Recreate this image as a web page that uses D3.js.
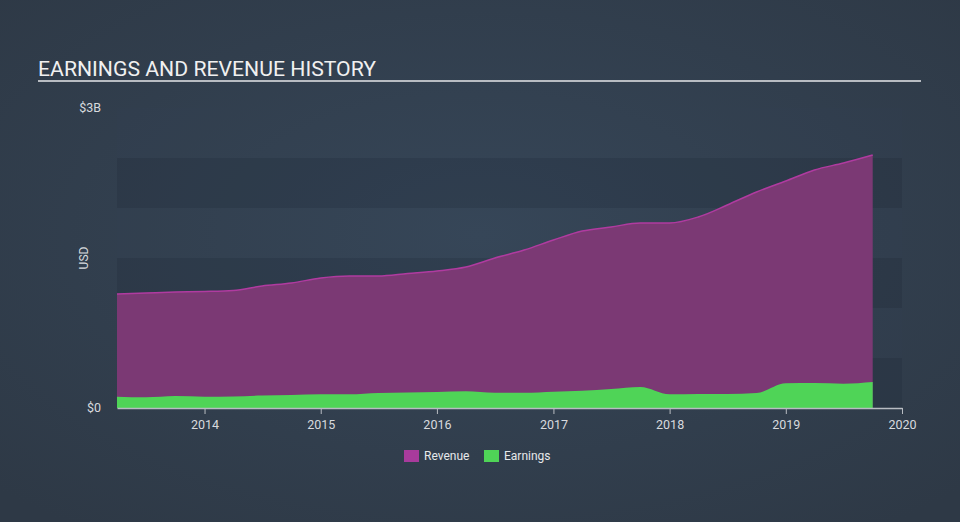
<!DOCTYPE html>
<html>
<head>
<meta charset="utf-8">
<script src="https://cdn.jsdelivr.net/npm/d3@7/dist/d3.min.js"></script>
<style>
  html, body { margin: 0; padding: 0; background: #323f4f; }
  svg { display: block; }
  text { font-family: Roboto, "Open Sans", sans-serif; }
</style>
</head>
<body>
<svg id="chart" width="960" height="522"></svg>
<script>
// ---- data (values in billions USD) ----
const dates = ["2013-04","2013-07","2013-10","2014-01","2014-04","2014-07","2014-10",
  "2015-01","2015-04","2015-07","2015-10","2016-01","2016-04","2016-07","2016-10",
  "2017-01","2017-04","2017-07","2017-10","2018-01","2018-04","2018-07","2018-10",
  "2019-01","2019-04","2019-07","2019-10"];
const revenue = [1.14,1.15,1.16,1.165,1.175,1.22,1.25,
  1.30,1.32,1.32,1.345,1.37,1.41,1.50,1.58,
  1.68,1.77,1.81,1.85,1.85,1.91,2.03,2.16,
  2.27,2.38,2.45,2.53];
const earnings = [0.113,0.107,0.12,0.113,0.115,0.125,0.13,
  0.137,0.137,0.15,0.155,0.16,0.167,0.153,0.153,
  0.163,0.173,0.19,0.21,0.137,0.14,0.14,0.15,
  0.247,0.25,0.243,0.26];
const xTickYears = [2014,2015,2016,2017,2018,2019,2020];
const yTickValues = [0, 3];
const yTickLabels = ["$0", "$3B"];
const bandEdges = [0, 0.5, 1, 1.5, 2, 2.5];
const seriesNames = ["Revenue", "Earnings"];
const seriesColors = ["#a83b9c", "#4fd457"];

const parse = d3.timeParse("%Y-%m");
const rows = dates.map((d, i) => ({ date: parse(d), rev: revenue[i], earn: earnings[i] }));

const svg = d3.select("#chart");
const W = 960, H = 522;

// background
const defs = svg.append("defs");
const rg = defs.append("radialGradient").attr("id", "bg")
  .attr("cx", "50%").attr("cy", "45%").attr("r", "70%");
rg.append("stop").attr("offset", "0%").attr("stop-color", "#364658");
rg.append("stop").attr("offset", "100%").attr("stop-color", "#2e3946");
svg.append("rect").attr("width", W).attr("height", H).attr("fill", "url(#bg)");

// title
svg.append("text").attr("x", 38).attr("y", 76)
  .attr("fill", "#f0f0f0").attr("font-size", 21)
  .attr("textLength", 338).attr("lengthAdjust", "spacingAndGlyphs")
  .text("EARNINGS AND REVENUE HISTORY");
svg.append("rect").attr("x", 38).attr("y", 80).attr("width", 883).attr("height", 2)
  .attr("fill", "#b8bcc2");

// scales
const x = d3.scaleTime()
  .domain([new Date(2013, 3, 1), new Date(2020, 0, 1)])
  .range([117, 902]);
const y = d3.scaleLinear().domain([0, 3]).range([408, 108]);

// bands
const g = svg.append("g");
for (let i = 0; i < bandEdges.length; i++) {
  const lo = bandEdges[i], hi = lo + 0.5;
  g.append("rect")
    .attr("x", x.range()[0]).attr("width", x.range()[1] - x.range()[0])
    .attr("y", y(hi)).attr("height", y(lo) - y(hi))
    .attr("fill", i % 2 === 0 ? "rgba(25,35,48,0.2)" : "rgba(60,75,90,0.05)");
}

const curve = d3.curveMonotoneX;
// revenue area
g.append("path").datum(rows)
  .attr("fill", "#7b3974").attr("fill-opacity", 1)
  .attr("d", d3.area().curve(curve).x(d => x(d.date)).y0(y(0)).y1(d => y(d.rev)));
g.append("path").datum(rows)
  .attr("fill", "none").attr("stroke", "#b03ba0").attr("stroke-width", 1.5)
  .attr("d", d3.line().curve(curve).x(d => x(d.date)).y(d => y(d.rev)));
// earnings area
g.append("path").datum(rows)
  .attr("fill", "#4fd457")
  .attr("d", d3.area().curve(curve).x(d => x(d.date)).y0(y(0)).y1(d => y(d.earn)));

// x axis
const xAxis = d3.axisBottom(x)
  .tickValues(xTickYears.map(yr => new Date(yr, 0, 1)))
  .tickFormat(d3.timeFormat("%Y"))
  .tickSize(6).tickSizeOuter(0);
const xa = svg.append("g").attr("transform", "translate(0,408)").call(xAxis);
xa.select(".domain").attr("stroke", "#b8bcc2").attr("stroke-width", 1.5);
xa.selectAll(".tick line").attr("stroke", "#b8bcc2");
xa.selectAll(".tick text").attr("fill", "#d8dade").attr("font-size", 12.5)
  .attr("font-family", "Roboto, sans-serif").attr("dy", "0.95em");

// y labels
svg.selectAll(".ylab").data(yTickValues).enter().append("text")
  .attr("class", "ylab")
  .attr("x", 101).attr("y", d => y(d) + 4)
  .attr("text-anchor", "end").attr("fill", "#d8dade").attr("font-size", 12.5)
  .text((d, i) => yTickLabels[i]);
svg.append("text").attr("transform", "translate(88,258) rotate(-90)")
  .attr("text-anchor", "middle").attr("fill", "#d8dade").attr("font-size", 12)
  .text("USD");

// legend
const legend = svg.append("g");
const lx = [404, 484];
seriesNames.forEach((n, i) => {
  legend.append("rect").attr("x", lx[i]).attr("y", 450).attr("width", 15).attr("height", 12)
    .attr("fill", seriesColors[i]);
  legend.append("text").attr("x", lx[i] + 20).attr("y", 460)
    .attr("fill", "#e6e8ea").attr("font-size", 12).text(n);
});
</script>
</body>
</html>
